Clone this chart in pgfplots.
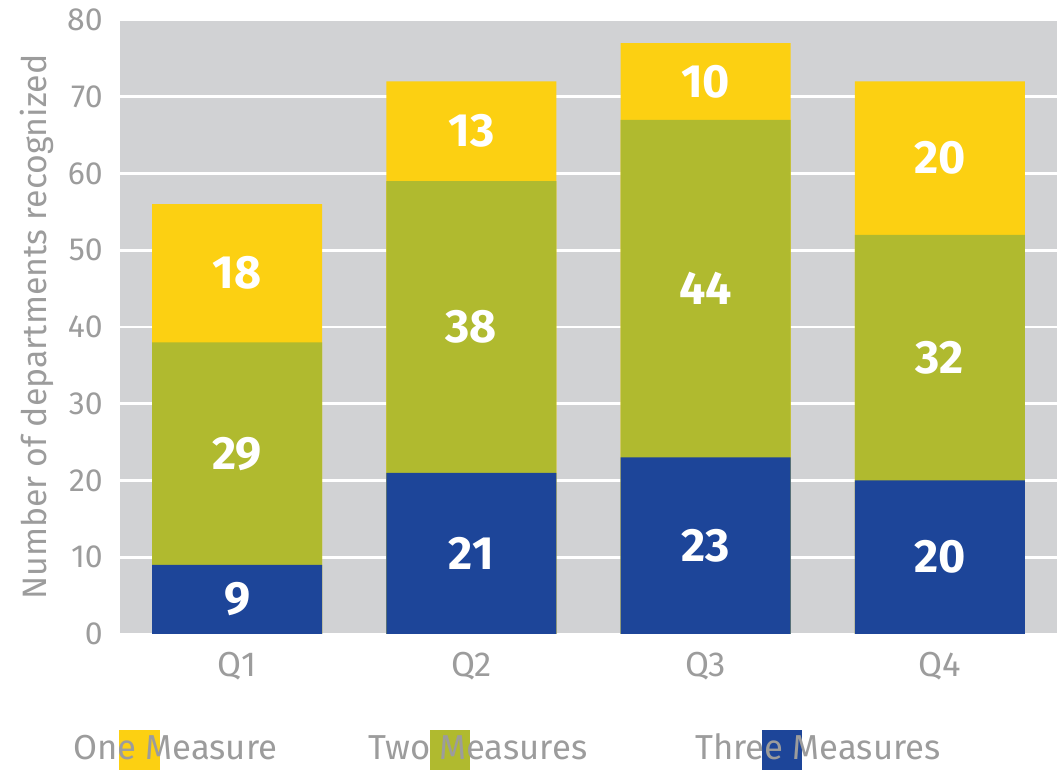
\documentclass[border=0pt]{standalone}
\usepackage{fontspec}
\setmainfont{Fira Sans}
\usepackage{pgfplots}
\pgfplotsset{compat=1.18}
\definecolor{bggray}{HTML}{D1D2D4}
\definecolor{cyellow}{HTML}{FCD012}
\definecolor{cgreen}{HTML}{B0BA2F}
\definecolor{cblue}{HTML}{1D4599}
\definecolor{txtgray}{HTML}{9C9C9C}

\begin{document}
\begin{tikzpicture}[x=0.75pt,y=0.75pt]
\useasboundingbox (-120,-136) rectangle (937,634);
\begin{axis}[
  scale only axis, width=702.75pt, height=460.5pt,
  xmin=-0.5, xmax=3.5, ymin=0, ymax=80,
  xtick={0,1,2,3}, xticklabels={Q1,Q2,Q3,Q4},
  ytick={0,10,...,80},
  ymajorgrids, grid style={white, line width=1.9pt},
  axis background/.style={fill=bggray},
  axis line style={draw=none},
  major tick length=0pt,
  tick label style={text=txtgray},
  /pgf/number format/assume math mode=true,
  yticklabel style={inner sep=0pt, xshift=-12.75pt, font=\fontsize{24}{27}\selectfont},
  xticklabel style={inner sep=0pt, yshift=-13.5pt, font=\fontsize{26}{29}\selectfont},
  ylabel={Number of departments recognized},
  ylabel style={font=\fontsize{25.4}{28}\selectfont, text=txtgray,
    at={(axis description cs:-0.0886,0.5)}, anchor=center},
  every node near coord/.append style={anchor=center, text=white,
    font=\fontsize{35}{38}\selectfont\bfseries},
]
% totals drawn first, then the lower parts on top
\addplot[ybar, bar width=127.5pt, bar shift=0pt, fill=cyellow, draw=none]
  coordinates {(0,56) (1,72) (2,77) (3,72)};
\addplot[ybar, bar width=127.5pt, bar shift=0pt, fill=cgreen, draw=none]
  coordinates {(0,38) (1,59) (2,67) (3,52)};
\addplot[ybar, bar width=127.5pt, bar shift=0pt, fill=cblue, draw=none]
  coordinates {(0,9) (1,21) (2,23) (3,20)};
% segment values, at the middle of each segment
\addplot[draw=none, mark=none, nodes near coords, point meta=explicit symbolic]
  coordinates {
    (0,4.5)[9] (1,10.5)[21] (2,11.5)[23] (3,10)[20]
    (0,23.5)[29] (1,40)[38] (2,45)[44] (3,36)[32]
    (0,47)[18] (1,65.5)[13] (2,72)[10] (3,62)[20]
  };
\end{axis}
\fill[cyellow] (-1,-136) rectangle (40,-96);
\fill[cgreen] (310,-136) rectangle (350,-96);
\fill[cblue] (642,-136) rectangle (682,-96);
\begin{scope}[every node/.style={anchor=base west, inner sep=0pt, text=txtgray,
    font=\fontsize{26}{29}\selectfont}]
\node at (-47,-126) {One Measure};
\node at (248,-126) {Two Measures};
\node at (575,-126) {Three Measures};
\end{scope}
\end{tikzpicture}
\end{document}
